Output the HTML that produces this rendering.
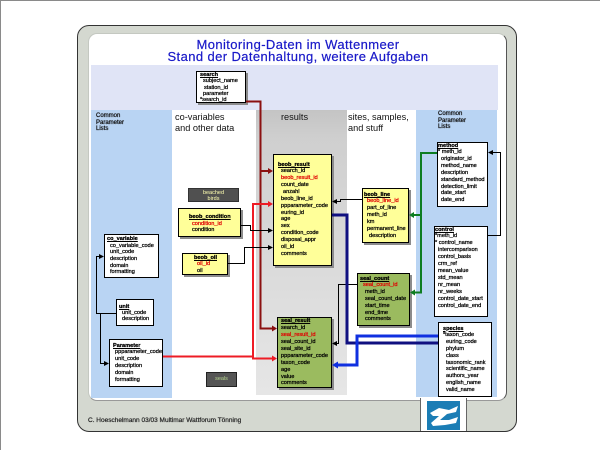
<!DOCTYPE html>
<html><head><meta charset="utf-8">
<style>
*{box-sizing:border-box;margin:0;padding:0}
html,body{width:600px;height:450px;overflow:hidden;background:#fff}
#c{position:relative;width:600px;height:450px;overflow:hidden;background:#fff;font-family:"Liberation Sans",Arial,sans-serif}
.a{position:absolute}
.bx{position:absolute;border:1px solid #000;font-size:5.6px;color:#000;white-space:nowrap;-webkit-text-stroke:0.25px currentColor}
.sh{box-shadow:2px 2px 0 #8c8c8c}
.in{position:absolute;left:0;right:0}
.t{text-decoration:underline;font-weight:bold}
.r{color:#e00000}
.y{background:#ffff99}
.g{background:#9bbb5f}
.w{background:#fff}
.lbl{position:absolute;font-size:9.2px;line-height:11px;color:#111;white-space:nowrap}
.cpl{position:absolute;font-size:6px;line-height:6.5px;color:#111;white-space:nowrap;-webkit-text-stroke:0.25px #111}
.ttl{position:absolute;left:0;width:596px;text-align:center;font-size:13px;line-height:13px;color:#1818c8;letter-spacing:0.4px;white-space:nowrap;-webkit-text-stroke:0.2px #1818c8}
</style></head><body>
<div id="c">
  <div class="a" style="left:0;top:0;width:600px;height:1px;background:#8a8a8a"></div>
  <div class="a" style="left:0;top:0;width:1px;height:450px;background:#8a8a8a"></div>

  <!-- outer frame -->
  <div class="a" style="left:77px;top:25px;width:440px;height:407px;background:#d4d8d0;border:1px solid #333;border-radius:12px"></div>
  <!-- inner white -->
  <div class="a" style="left:88px;top:33px;width:419px;height:368px;background:#fff;border-radius:9px;border:1px solid #c4c8c1;border-right-color:#555;border-bottom-color:#999"></div>
  <!-- logo area -->
  <div class="a" style="left:420px;top:398px;width:47px;height:33px;background:#fff;border-left:1px solid #666;border-right:1px solid #666"></div>
  <svg class="a" style="left:427px;top:401px" width="33" height="29" viewBox="0 0 33 29">
    <rect width="33" height="29" fill="#1b7db5"/>
    <polygon points="3,12 12,7 22,9 31,5 29,11 20,13 13,19 22,19 31,16 29,22 18,24 6,25 4,22 12,15 6,15" fill="#fff"/>
  </svg>

  <!-- title -->
  <div class="ttl" style="top:38px">Monitoring-Daten im Wattenmeer</div>
  <div class="ttl" style="top:50px">Stand der Datenhaltung, weitere Aufgaben</div>

  <!-- bands and panels -->
  <div class="a" style="left:91px;top:65px;width:407px;height:45px;background:#e0e4f6"></div>
  <div class="a" style="left:91px;top:110px;width:81px;height:288px;background:#b9d4f3"></div>
  <div class="a" style="left:416px;top:110px;width:81px;height:287px;background:#b9d4f3"></div>
  <div class="a" style="left:256px;top:110px;width:91px;height:285px;background:linear-gradient(to bottom,#c4c4c4 0%,#cfcfcf 10%,#e6e6e6 100%)"></div>

  <!-- panel labels -->
  <div class="cpl" style="left:96px;top:113px">Common<br>Parameter<br>Lists</div>
  <div class="cpl" style="left:438px;top:111px">Common<br>Parameter<br>Lists</div>
  <div class="lbl" style="left:175px;top:111.5px">co-variables<br>and other data</div>
  <div class="lbl" style="left:281px;top:111.5px">results</div>
  <div class="lbl" style="left:348px;top:111.5px">sites, samples,<br>and stuff</div>

  <!-- footer -->
  <div class="a" style="left:88px;top:417px;font-size:6.5px;line-height:8px;color:#222;white-space:nowrap;-webkit-text-stroke:0.2px #222">C. Hoeschelmann 03/03 Multimar Wattforum Tönning</div>

  <!-- search -->
  <div class="bx w sh" style="left:196px;top:71px;width:50px;height:32px"><div class="in" style="top:0;line-height:6.3px">
    <div style="padding-left:3px"><span class="t">search</span></div>
    <div style="padding-left:6px">subject_name</div>
    <div style="padding-left:7px">station_id</div>
    <div style="padding-left:6px">parameter</div>
    <div style="padding-left:3px">*search_id</div>
  </div></div>

  <!-- beached birds -->
  <div class="a" style="left:188px;top:188px;width:51px;height:14px;background:#505050;border:1px solid #333;color:#ffffb0;font-size:5.5px;line-height:6px;text-align:center;padding-top:0.5px">beached<br>birds</div>

  <!-- beob_condition -->
  <div class="bx y sh" style="left:178px;top:208px;width:63px;height:29px"><div class="in" style="top:5px;line-height:6.5px">
    <div style="padding-left:10px"><span class="t">beob_condition</span></div>
    <div class="r" style="padding-left:13px">condition_id</div>
    <div style="padding-left:13px">condition</div>
  </div></div>

  <!-- beob_oil -->
  <div class="bx y sh" style="left:182px;top:253px;width:46px;height:22px"><div class="in" style="top:1.2px;line-height:6.2px">
    <div style="padding-left:11px"><span class="t">beob_oil</span></div>
    <div class="r" style="padding-left:14px">oil_id</div>
    <div style="padding-left:14px">oil</div>
  </div></div>

  <!-- beob_result -->
  <div class="bx y sh" style="left:273px;top:154px;width:59px;height:112px"><div class="in" style="top:6.6px;line-height:6.85px">
    <div style="padding-left:4px"><span class="t">beob_result</span></div>
    <div style="padding-left:7px">search_id</div>
    <div class="r" style="padding-left:7px">beob_result_id</div>
    <div style="padding-left:7px">count_date</div>
    <div style="padding-left:9px">anzahl</div>
    <div style="padding-left:7px">beob_line_id</div>
    <div style="padding-left:7px">ppparameter_code</div>
    <div style="padding-left:7px">euring_id</div>
    <div style="padding-left:7px">age</div>
    <div style="padding-left:7px">sex</div>
    <div style="padding-left:7px">condition_code</div>
    <div style="padding-left:7px">disposal_appr</div>
    <div style="padding-left:7px">oil_id</div>
    <div style="padding-left:7px">comments</div>
  </div></div>

  <!-- beob_line -->
  <div class="bx y sh" style="left:362px;top:188px;width:47px;height:55px"><div class="in" style="top:2.6px;line-height:6.85px">
    <div style="padding-left:1px"><span class="t">beob_line</span></div>
    <div class="r" style="padding-left:4px">beob_line_id</div>
    <div style="padding-left:4px">part_of_line</div>
    <div style="padding-left:4px">meth_id</div>
    <div style="padding-left:4px">km</div>
    <div style="padding-left:4px">permanent_line</div>
    <div style="padding-left:6px">description</div>
  </div></div>

  <!-- seal_count -->
  <div class="bx g sh" style="left:357px;top:273px;width:53px;height:53px"><div class="in" style="top:1.6px;line-height:6.8px">
    <div style="padding-left:2px"><span class="t">seal_count</span></div>
    <div class="r" style="padding-left:5px">seal_count_id</div>
    <div style="padding-left:7px">meth_id</div>
    <div style="padding-left:7px">seal_count_date</div>
    <div style="padding-left:7px">start_time</div>
    <div style="padding-left:7px">end_time</div>
    <div style="padding-left:7px">comments</div>
  </div></div>

  <!-- seal_result -->
  <div class="bx g sh" style="left:277px;top:317px;width:55px;height:71px"><div class="in" style="top:0.3px;line-height:6.9px">
    <div style="padding-left:3px"><span class="t">seal_result</span></div>
    <div style="padding-left:3px">search_id</div>
    <div class="r" style="padding-left:3px">seal_result_id</div>
    <div style="padding-left:3px">seal_count_id</div>
    <div style="padding-left:3px">seal_site_id</div>
    <div style="padding-left:3px">ppparameter_code</div>
    <div style="padding-left:3px">taxon_code</div>
    <div style="padding-left:3px">age</div>
    <div style="padding-left:3px">value</div>
    <div style="padding-left:3px">comments</div>
  </div></div>

  <!-- seals -->
  <div class="a" style="left:206px;top:372px;width:31px;height:15px;background:#555;border:1px solid #222;color:#b8d890;font-size:5.5px;line-height:13px;text-align:center">seals</div>

  <!-- method -->
  <div class="bx w" style="left:437px;top:142px;width:51px;height:65px"><div class="in" style="top:-0.4px;line-height:6.83px">
    <div><span class="t">method</span></div>
    <div>*&nbsp;meth_id</div>
    <div style="padding-left:3px">originator_id</div>
    <div style="padding-left:3px">method_name</div>
    <div style="padding-left:3px">description</div>
    <div style="padding-left:3px">standard_method</div>
    <div style="padding-left:3px">detection_limit</div>
    <div style="padding-left:3px">date_start</div>
    <div style="padding-left:3px">date_end</div>
  </div></div>

  <!-- control -->
  <div class="bx w" style="left:434px;top:226px;width:54px;height:91px"><div class="in" style="top:-0.45px;line-height:6.9px">
    <div><span class="t">control</span></div>
    <div>*meth_id</div>
    <div>*&nbsp;control_name</div>
    <div style="padding-left:3px">intercomparison</div>
    <div style="padding-left:3px">control_basis</div>
    <div style="padding-left:3px">crm_ref</div>
    <div style="padding-left:3px">mean_value</div>
    <div style="padding-left:3px">std_mean</div>
    <div style="padding-left:3px">nr_mean</div>
    <div style="padding-left:3px">nr_weeks</div>
    <div style="padding-left:3px">control_date_start</div>
    <div style="padding-left:3px">control_date_end</div>
  </div></div>

  <!-- species -->
  <div class="bx w" style="left:438px;top:322px;width:54px;height:75px"><div class="in" style="top:2.6px;line-height:6.78px">
    <div style="padding-left:4px"><span class="t">species</span></div>
    <div style="padding-left:4px">*taxon_code</div>
    <div style="padding-left:7px">euring_code</div>
    <div style="padding-left:7px">phylum</div>
    <div style="padding-left:7px">class</div>
    <div style="padding-left:7px">taxonomic_rank</div>
    <div style="padding-left:7px">scientific_name</div>
    <div style="padding-left:7px">authors_year</div>
    <div style="padding-left:7px">english_name</div>
    <div style="padding-left:7px">valid_name</div>
  </div></div>

  <!-- co_variable -->
  <div class="bx w" style="left:104px;top:234px;width:55px;height:44px"><div class="in" style="top:1px;line-height:6.67px">
    <div style="padding-left:2px"><span class="t">co_variable</span></div>
    <div style="padding-left:5px">co_variable_code</div>
    <div style="padding-left:5px">unit_code</div>
    <div style="padding-left:5px">description</div>
    <div style="padding-left:5px">domain</div>
    <div style="padding-left:5px">formatting</div>
  </div></div>

  <!-- unit -->
  <div class="bx w" style="left:116px;top:299px;width:38px;height:27px"><div class="in" style="top:3.5px;line-height:6.3px">
    <div style="padding-left:2px"><span class="t">unit</span></div>
    <div style="padding-left:5px">unit_code</div>
    <div style="padding-left:5px">description</div>
  </div></div>

  <!-- Parameter -->
  <div class="bx w" style="left:109px;top:339px;width:54px;height:48px"><div class="in" style="top:2.6px;line-height:6.8px">
    <div style="padding-left:3px"><span class="t">Parameter</span></div>
    <div style="padding-left:5px">ppparameter_code</div>
    <div style="padding-left:5px">unit_code</div>
    <div style="padding-left:5px">description</div>
    <div style="padding-left:5px">domain</div>
    <div style="padding-left:5px">formatting</div>
  </div></div>

  <!-- connectors -->
  <svg class="a" style="left:0;top:0" width="600" height="450" viewBox="0 0 600 450">
    <g fill="none" stroke-linejoin="miter">
      <path d="M246,101.5 H260.5 V328.5 H272 M260.5,171 H268" stroke="#8b1010" stroke-width="2"/>
      <path d="M163,356.5 H253 V204 H268 M253,356.5 V358.5 H272" stroke="#ee1c25" stroke-width="2"/>
      <path d="M241,225.5 H250.5 V230.5 H269" stroke="#000" stroke-width="1"/>
      <path d="M228,263.5 H244.5 V247.5 H269" stroke="#000" stroke-width="1"/>
      <path d="M362,199.5 H340.5 V201.5 H336" stroke="#000" stroke-width="1"/>
      <path d="M357,284.5 H338.5 V343.5 H336" stroke="#000" stroke-width="1"/>
      <path d="M491,152.5 H500.5 V235.5 H488" stroke="#000" stroke-width="1"/>
      <path d="M116,313.5 H96.5 V256.5 H100" stroke="#000" stroke-width="1"/>
      <path d="M100.5,313.5 V363.5 H105" stroke="#000" stroke-width="1"/>
      <path d="M437,153 H421 V292.5 H414 M421,215 H413" stroke="#0e7d22" stroke-width="2"/>
      <path d="M332,215 H347 V343 H438" stroke="#101080" stroke-width="3"/>
      <path d="M438,336 H357 V365 H337" stroke="#1030e0" stroke-width="3"/>
    </g>
    <polygon points="268,168 273,171 268,174" fill="#8b1010"/>
    <polygon points="272,325.5 277,328.5 272,331.5" fill="#8b1010"/>
    <polygon points="268,201 273,204 268,207" fill="#ee1c25"/>
    <polygon points="272,355.5 277,358.5 272,361.5" fill="#ee1c25"/>
    <polygon points="268,228 273,230.5 268,233" fill="#000"/>
    <polygon points="268,245 273,247.5 268,250" fill="#000"/>
    <polygon points="337,199 332,201.5 337,204" fill="#000"/>
    <polygon points="337,341 332,343.5 337,346" fill="#000"/>
    <polygon points="493,150 488,152.5 493,155" fill="#000"/>
    <polygon points="99,254 104,256.5 99,259" fill="#000"/>
    <polygon points="104,361 109,363.5 104,366" fill="#000"/>
    <polygon points="415,289.5 410,292.5 415,295.5" fill="#0e7d22"/>
    <polygon points="414,212 409,215 414,218" fill="#0e7d22"/>
    <polygon points="338,361.5 332,365 338,368.5" fill="#1030e0"/>
  </svg>
</div>
</body></html>
